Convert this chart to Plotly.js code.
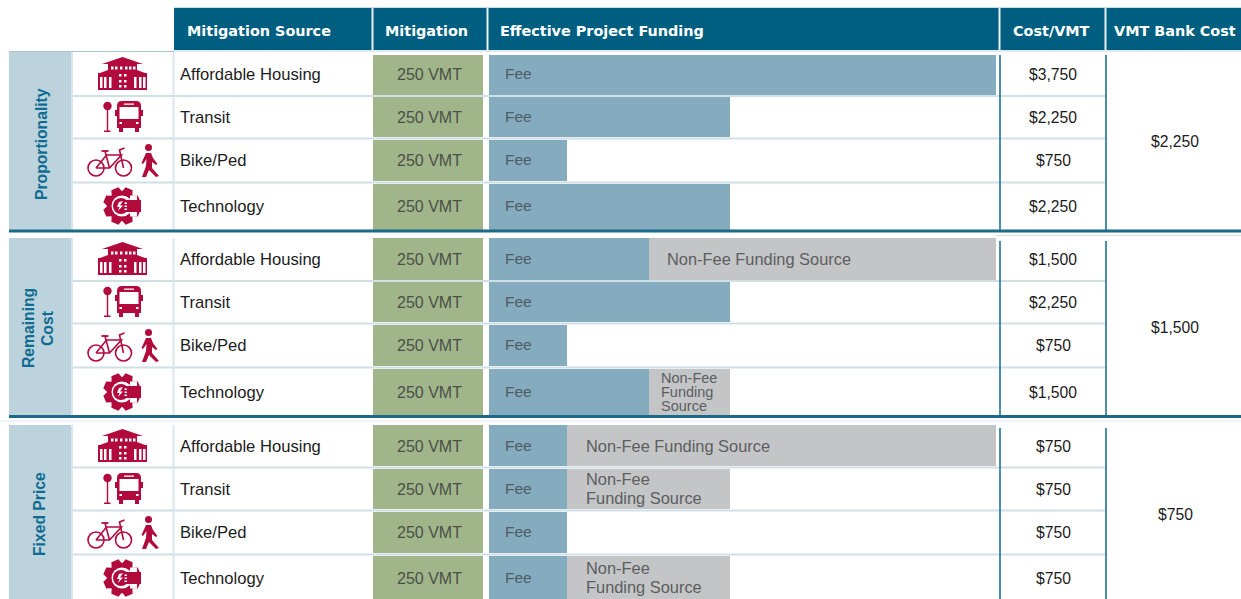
<!DOCTYPE html>
<html><head><meta charset="utf-8">
<style>html,body{margin:0;padding:0;background:#fff;overflow:hidden}</style>
<script src="https://cdn.plot.ly/plotly-3.0.1.min.js"></script></head>
<body><div id="chart" style="width:1241px;height:599px"></div>
<script>
// ---- data ----
const headers = ["Mitigation Source","Mitigation","Effective Project Funding","Cost/VMT","VMT Bank Cost"];
const sections = ["Proportionality","Remaining<br>Cost","Fixed Price"];
const sources = ["Affordable Housing","Transit","Bike/Ped","Technology",
                 "Affordable Housing","Transit","Bike/Ped","Technology",
                 "Affordable Housing","Transit","Bike/Ped","Technology"];
const mitigationVMT = [250,250,250,250,250,250,250,250,250,250,250,250];
// bar lengths, as % of the funding column width
const feeShare    = [100,47.5,15.4,47.5, 31.6,47.5,15.4,31.6, 15.4,15.4,15.4,15.4];
const nonFeeShare = [0,0,0,0, 68.4,0,0,15.9, 84.6,32.1,0,32.1];
const nonFeeLabels = ["","","","", "Non-Fee Funding Source","","","Non-Fee|Funding|Source",
                      "Non-Fee Funding Source","Non-Fee|Funding Source","","Non-Fee|Funding Source"];
const costPerVMT = ["$3,750","$2,250","$750","$2,250","$1,500","$2,250","$750","$1,500","$750","$750","$750","$750"];
const bankCost = ["$2,250","$1,500","$750"];

// ---- page geometry (pixels) ----
const rowTop = [55,97,140,184, 238,282,325,369, 425,469,512,556];
const rowBot = [95,137,181,230, 280,322,366,415, 466,509,553,604];
const rowMid = [74,117,160,206, 259,302,345,392, 446,489,532,578];
const secTop = [52,238,425], secBot = [230,416,604];
const C = {head:"#005f80", sec:"#bcd3dd", fee:"#85abbe", green:"#a0b68a", grey:"#c4c5c7",
           red:"#b30a3e", sep:"#d9e6ec", line:"#0f6b8f", dark:"#1d6a88"};
const F = "Liberation Sans, Arial, sans-serif";

const shapes = [], ann = [];
const rect=(x0,y0,x1,y1,fill,layer="below")=>shapes.push({type:"rect",xref:"x",yref:"y",x0,y0,x1,y1,fillcolor:fill,line:{width:0},layer});
const hline=(x0,x1,y,c,w=1,layer="above")=>shapes.push({type:"line",xref:"x",yref:"y",x0,x1,y0:y,y1:y,line:{color:c,width:w},layer});
const vline=(x,y0,y1,c,w=1,layer="above")=>shapes.push({type:"line",xref:"x",yref:"y",x0:x,x1:x,y0,y1,line:{color:c,width:w},layer});
const circ=(cx,cy,r,fill,stroke,sw=0)=>shapes.push({type:"circle",xref:"x",yref:"y",x0:cx-r,x1:cx+r,y0:cy-r,y1:cy+r,fillcolor:fill,line:{color:stroke||fill,width:sw},layer:"above"});
const poly=(pts,fill)=>shapes.push({type:"path",xref:"x",yref:"y",path:"M"+pts.map(p=>p[0]+","+p[1]).join("L")+"Z",fillcolor:fill,line:{width:0},layer:"above"});
const stroke=(pts,c,w)=>shapes.push({type:"path",xref:"x",yref:"y",path:"M"+pts.map(p=>p[0]+","+p[1]).join("L"),line:{color:c,width:w},layer:"above"});
const txt=(text,x,y,o={})=>ann.push(Object.assign({text,x,y,xref:"x",yref:"y",showarrow:false,xanchor:"left",yanchor:"middle",borderpad:0,
  font:Object.assign({family:F,size:16.6,color:"#1c1c1c"},o.font||{})},o.a||{}));

// header
rect(174,8,1241,50,C.head);
hline(174,1241,7.5,"#c9dbe3",1);
[372.5,487.5,999.5,1105.5].forEach(x=>vline(x,8,50,"#eaf1f4",2));
const hx=[186,384,499,1012,1113];
const HF={family:"DejaVu Sans, sans-serif",size:14.4,color:"#ffffff"};
headers.forEach((h,i)=>txt("<b>"+h+"</b>",hx[i],30.5,{font:HF}));
hline(174,1241,51,"#dfe9ee",2,"below");

// sections
secTop.forEach((t,i)=>{
  rect(9,t,71,secBot[i],C.sec);
});
hline(9,174,51.5,"#a9c4d0",1);
sections.forEach((s,i)=>{
  const cy=[144,328,514][i];
  const SF={color:C.line,size:15.7};
  if(i===1){
    txt("<b>Remaining</b>",28,cy,{font:SF,a:{textangle:-90,xanchor:"center"}});
    txt("<b>Cost</b>",47,cy,{font:SF,a:{textangle:-90,xanchor:"center"}});
  } else {
    txt("<b>"+s+"</b>",[41,0,39][i],cy,{font:SF,a:{textangle:-90,xanchor:"center"}});
  }
});

// table rules
for(let s=0;s<3;s++){
  const y0=secTop[s], y1=Math.min(secBot[s],599);
  vline(72,y0,y1,C.sep,2);
  vline(173.5,y0,y1,C.sep,2);
  vline(1000,y0+3,y1,C.line,1.5);
  vline(1106,y0+3,y1,C.line,1.5);
}
for(let i=0;i<12;i++){
  if(i%4!==3){
    const y=(rowBot[i]+rowTop[i+1])/2;
    hline(72,1106,y,"#cfdfe6",2,"below");
  }
}
hline(9,1241,231,C.dark,3);
hline(9,1241,416.5,C.dark,3);
hline(996,1241,235.5,"#d8dde0",1);
hline(0,1241,421,"#e4e9eb",1,"below");

// cell text
const ty=rowMid.map(v=>v+0.6);
sources.forEach((s,i)=>txt(s,178.5,ty[i]));
mitigationVMT.forEach((v,i)=>txt(v+" VMT",429,ty[i],{font:{color:"#4b4f48",size:16},a:{xanchor:"center"}}));
feeShare.forEach((v,i)=>txt("Fee",503.5,rowMid[i]-0.4,{font:{color:"#4f5d66",size:15.5}}));
const nfx=[0,0,0,0,665.5,0,0,659.5,584.5,584.5,0,584.5];
nonFeeLabels.forEach((l,i)=>{
  if(!l) return;
  const ls=l.split("|");
  const step=ls.length===3?14:19, sz=ls.length===3?14.5:16.4;
  ls.forEach((t,k)=>txt(t,nfx[i],rowMid[i]-0.4+(k-(ls.length-1)/2)*step,{font:{color:"#5c5e60",size:sz}}));
});
costPerVMT.forEach((c,i)=>txt(c,1053,ty[i],{font:{size:15.7},a:{xanchor:"center"}}));
bankCost.forEach((c,i)=>txt(c,1175,[141,327,514][i]+0.6,{font:{size:15.7},a:{xanchor:"center"}}));

// icons
function house(cx,cy){
  const o=cx-24.5,t=cy-17; const R=(a,b,c,d,f)=>rect(o+a,t+b,o+c,t+d,f,"above");
  poly([[o+4,t+7],[o+24.5,t],[o+45,t+7]].map(p=>p),C.red);
  R(10,7,39,33,C.red);
  poly([[o+2,t+16],[o+10,t+13],[o+39,t+13],[o+47,t+16]],C.red);
  R(0,16,49,33,C.red);
  [13,17,22,27,31,35].forEach(x=>R(x,9.5,x+2.5,12.5,"#fff"));
  [21,26].forEach(x=>[17,23,28].forEach(y=>R(x,y,x+2.5,y+2.5,"#fff")));
  [2,6,11,36,41,45].forEach(x=>R(x,20,x+2.5,31,"#fff"));
}
function transit(cx,cy){
  const o=cx-20,t=cy-17;
  circ(o+5.5,t+6,4.2,C.red);
  rect(o+4.8,t+8,o+6.2,t+31,C.red,"above"); rect(o+2,t+30.5,o+8.5,t+32,C.red,"above");
  const R=(a,b,c,d,f)=>rect(o+a,t+b,o+c,t+d,f,"above");
  shapes.push({type:"path",xref:"x",yref:"y",layer:"above",fillcolor:C.red,line:{width:0},
    path:`M${o+15},${t+6} Q${o+15},${t+1} ${o+20},${t+1} L${o+34},${t+1} Q${o+39},${t+1} ${o+39},${t+6} L${o+39},${t+28} L${o+15},${t+28} Z`});
  R(13,10,15,16,C.red); R(39,10,41,16,C.red);
  R(17,26,21,32,C.red); R(33,26,37,32,C.red);
  R(17.5,7,36.5,19,"#fff"); R(22,3.5,32,4.8,"#fff");
  R(17.5,22,20,24,"#fff"); R(34,22,36.5,24,"#fff");
}
function bikeped(cx,cy){
  const o=cx-36.5,t=cy-16;
  circ(o+9.5,t+24,8,"rgba(0,0,0,0)",C.red,1.6);
  circ(o+37,t+24,8,"rgba(0,0,0,0)",C.red,1.6);
  const b=[[o+9.5,t+24],[o+20,t+11],[o+35,t+11],[o+23,t+24],[o+9.5,t+24]];
  stroke(b,C.red,1.6);
  stroke([[o+18.5,t+7],[o+23,t+24]],C.red,1.6);
  stroke([[o+15,t+7],[o+22,t+7]],C.red,1.8);
  stroke([[o+37,t+24],[o+33,t+6],[o+38,t+4]],C.red,1.6);
  circ(o+62,t+3.5,3.5,C.red);
  poly([[o+59.5,t+9],[o+64.5,t+9],[o+66.5,t+14],[o+71,t+20],[o+69.5,t+21],[o+65.5,t+18],[o+65.5,t+24],[o+72.5,t+32],[o+69.5,t+33],[o+62.5,t+26],[o+59.5,t+33],[o+55.5,t+33],[o+59.5,t+22],[o+60,t+15],[o+56.5,t+20],[o+55,t+19]],C.red);
}
function gear(cx,cy){
  const pts=[],n=8,ro=19,ri=15;
  for(let i=0;i<n;i++){
    const a=2*Math.PI*i/n+Math.PI/8, w=0.2, g=0.17;
    [[ri,a-w-g],[ro,a-w],[ro,a+w],[ri,a+w+g]].forEach(([r,th])=>pts.push([cx+r*Math.cos(th),cy+r*Math.sin(th)]));
  }
  poly(pts,C.red);
  circ(cx,cy,10.5,"#fff");
  circ(cx-1,cy,8,C.red);
  rect(cx-1,cy-6,cx+19,cy+6,C.red,"above");
  rect(cx+8,cy-10.5,cx+15,cy-6,"#fff","above");
  rect(cx+8,cy+6,cx+15,cy+10.5,"#fff","above");
  poly([[cx-3,cy-4],[cx+1,cy-5],[cx-2,cy-0.5],[cx+1,cy-0.5],[cx-4,cy+5],[cx-2.5,cy+1],[cx-5,cy+1]],"#fff");
  [cy-3.5,cy-0.5,cy+2.5].forEach(y=>rect(cx+2.5,y,cx+5,y+1.5,"#fff","above"));
}
const draw={"Affordable Housing":house,"Transit":transit,"Bike/Ped":bikeped,"Technology":gear};
const iconX={"Affordable Housing":122.5,"Transit":122,"Bike/Ped":123,"Technology":122};
sources.forEach((s,i)=>draw[s](iconX[s],rowMid[i]));

// bars from the data
const yMid=rowTop.map((t,i)=>(t+rowBot[i])/2), h=rowTop.map((t,i)=>rowBot[i]-t);
const bar=(x,color,xa,name)=>({type:"bar",orientation:"h",name,x,y:yMid,width:h,xaxis:xa,yaxis:"y",
  marker:{color,line:{width:0}},hoverinfo:"skip",showlegend:false});
const traces=[
  {type:"scatter",mode:"none",x:[0],y:[0],xaxis:"x",yaxis:"y",showlegend:false,hoverinfo:"skip"},
  bar(mitigationVMT,C.green,"x2","Mitigation"),
  bar(feeShare,C.fee,"x3","Fee"),
  bar(nonFeeShare,C.grey,"x3","Non-Fee Funding Source")
];
const W=1241;
const hid={visible:false,fixedrange:true};
Plotly.newPlot("chart",traces,{
  width:1241,height:599,margin:{l:0,r:0,t:0,b:0},paper_bgcolor:"#fff",plot_bgcolor:"rgba(0,0,0,0)",
  barmode:"stack",showlegend:false,
  xaxis:{...hid,range:[0,W],domain:[0,1]},
  xaxis2:{...hid,range:[0,250],domain:[373/W,483/W],anchor:"y"},
  xaxis3:{...hid,range:[0,100],domain:[489/W,996/W],anchor:"y"},
  yaxis:{...hid,range:[599,0],domain:[0,1]},
  shapes,annotations:ann
},{staticPlot:true,displayModeBar:false});
</script></body></html>
